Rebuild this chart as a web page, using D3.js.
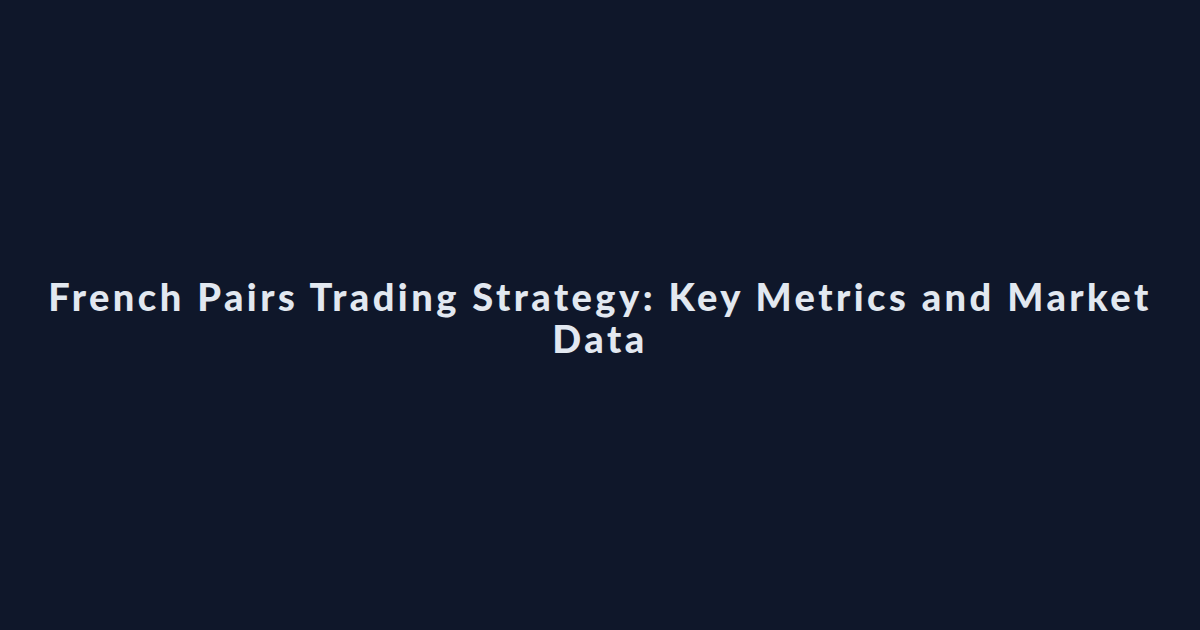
<!DOCTYPE html>
<html>
<head>
<meta charset="utf-8">
<script src="https://cdn.jsdelivr.net/npm/d3@7"></script>
<style>
  html, body { margin: 0; padding: 0; background: #0f172a; }
</style>
</head>
<body>
<script>
// Title card - no series, just the title split into its two lines
var titleLines = ["French Pairs Trading Strategy: Key Metrics and Market", "Data"];

var width = 1200, height = 630;
var fontSize = 38;

var svg = d3.select("body").append("svg")
    .attr("width", width)
    .attr("height", height);

svg.append("rect")
    .attr("width", width)
    .attr("height", height)
    .attr("fill", "#0f172a");

// baselines at ~311 and ~353
var y = d3.scalePoint()
    .domain(d3.range(titleLines.length))
    .range([311, 353]);

var title = svg.selectAll(".title")
    .data(titleLines)
    .enter().append("text")
    .attr("class", "title")
    .attr("x", width / 2)
    .attr("y", function (d, i) { return y(i); })
    .attr("text-anchor", "middle")
    .style("font-family", "Lato, 'Open Sans', sans-serif")
    .style("font-weight", "900")
    .style("font-size", fontSize + "px")
    .style("fill", "#e2e8f0")
    .text(function (d) { return d; });

// the reference font is wide and geometric: widen with letter spacing so line one spans ~1100px
var w = title.node().getComputedTextLength();
var spacing = (1100 - w) / (titleLines[0].length - 1);
title.style("letter-spacing", spacing.toFixed(2) + "px");
</script>
</body>
</html>
